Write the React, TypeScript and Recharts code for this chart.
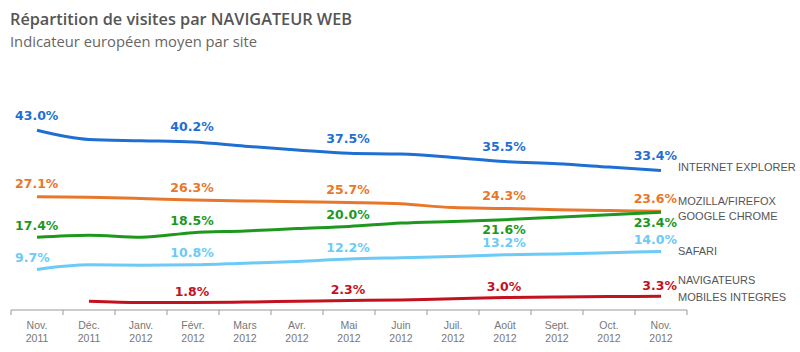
import React from 'react';
import { LineChart, Line, XAxis, YAxis, LabelList } from 'recharts';

const months = ['Nov.', 'Déc.', 'Janv.', 'Févr.', 'Mars', 'Avr.', 'Mai', 'Juin', 'Juil.', 'Août', 'Sept.', 'Oct.', 'Nov.'];
const years = ['2011', '2011', '2012', '2012', '2012', '2012', '2012', '2012', '2012', '2012', '2012', '2012', '2012'];

const internetExplorer = [43.0, 40.8, 40.5, 40.2, 39.2, 38.3, 37.5, 37.3, 36.5, 35.5, 35.0, 34.2, 33.4];
const mozillaFirefox = [27.1, 27.0, 26.7, 26.3, 26.1, 25.9, 25.7, 25.4, 24.5, 24.3, 24.0, 23.8, 23.6];
const googleChrome = [17.4, 17.9, 17.4, 18.5, 18.9, 19.5, 20.0, 20.8, 21.2, 21.6, 22.2, 22.8, 23.4];
const safari = [9.7, 10.8, 10.7, 10.8, 11.2, 11.6, 12.2, 12.5, 12.8, 13.2, 13.4, 13.7, 14.0];
const mobiles = [null, 2.1, 1.8, 1.8, 1.9, 2.1, 2.3, 2.4, 2.7, 3.0, 3.1, 3.2, 3.3];

// points that carry a value label
const labelledPoints = [0, 3, 6, 9, 12];

const HALF_STEP = 26;
const LAST = months.length - 1;

const series = [
  { key: 'ie', name: ['INTERNET EXPLORER'], values: internetExplorer, color: '#1f6fd2', above: -15, below: [] as number[], nameDy: [-3] },
  { key: 'ff', name: ['MOZILLA/FIREFOX'], values: mozillaFirefox, color: '#e8772c', above: -13, below: [], nameDy: [-10] },
  { key: 'gc', name: ['GOOGLE CHROME'], values: googleChrome, color: '#1d981d', above: -12, below: [9, 12], nameDy: [4] },
  { key: 'sf', name: ['SAFARI'], values: safari, color: '#6ccaf6', above: -12, below: [], nameDy: [0] },
  { key: 'mb', name: ['NAVIGATEURS', 'MOBILES INTEGRES'], values: mobiles, color: '#c3121f', above: -11, below: [], nameDy: [-16, 1] },
];

const data = months.map((m, i) => {
  const row: Record<string, any> = { period: `${m} ${years[i]}` };
  series.forEach(s => { row[s.key] = s.values[i]; });
  return row;
});

const makeLabel = (s: typeof series[number]) => (props: any) => {
  const { x, y, value, index } = props;
  if (value == null || x == null || y == null) return null;
  const parts: React.ReactNode[] = [];
  if (labelledPoints.includes(index)) {
    const isBelow = s.below.includes(index);
    const anchor = index === 0 ? 'start' : index === LAST ? 'end' : 'middle';
    const tx = index === 0 ? x - 22 : index === LAST ? x + 16 : x - 1;
    const ty = (isBelow ? y + 10 : y + s.above) + 4.5;
    parts.push(
      <text key="v" x={tx} y={ty} textAnchor={anchor} fill={s.color}
        fontFamily="DejaVu Sans" fontWeight="bold" fontSize={12.5}>
        {`${Number(value).toFixed(1)}%`}
      </text>
    );
  }
  if (index === LAST) {
    s.name.forEach((line, i) => {
      parts.push(
        <text key={'n' + i} x={x + 17} y={y + s.nameDy[i] + 4} fill="#555"
          fontFamily="Liberation Sans" fontSize={11}>
          {line}
        </text>
      );
    });
  }
  return <g>{parts}</g>;
};

const AxisTick = (props: any) => {
  const { x, y, payload, index } = props;
  const [m, yr] = String(payload.value).split(' ');
  return (
    <g>
      <line x1={x - HALF_STEP} x2={x - HALF_STEP} y1={y - 5} y2={y} stroke="#999" />
      {index === LAST && <line x1={x + HALF_STEP} x2={x + HALF_STEP} y1={y - 5} y2={y} stroke="#999" />}
      <text x={x} y={y + 14} textAnchor="middle" fill="#777" fontFamily="Liberation Sans" fontSize={10.5}>{m}</text>
      <text x={x} y={y + 27} textAnchor="middle" fill="#777" fontFamily="Liberation Sans" fontSize={10.5}>{yr}</text>
    </g>
  );
};

export default function App() {
  return (
    <div style={{ position: 'relative', width: 800, height: 352, background: '#fff' }}>
      <style>{'body{margin:0}'}</style>
      <svg width={800} height={60} style={{ position: 'absolute', left: 0, top: 0 }}>
        <text x={10} y={25} fill="#555" fontFamily="Open Sans" fontWeight={600} fontSize={17}
          textLength={342} lengthAdjust="spacingAndGlyphs">
          Répartition de visites par NAVIGATEUR WEB
        </text>
        <text x={10} y={47} fill="#666" fontFamily="Open Sans" fontSize={14}
          textLength={247} lengthAdjust="spacingAndGlyphs">
          Indicateur européen moyen par site
        </text>
      </svg>
      <LineChart width={800} height={352} data={data}
        margin={{ top: 101, right: 113, left: 11, bottom: 2 }}>
        <XAxis dataKey="period" interval={0} height={40} tickSize={5} tickMargin={0}
          tickLine={false} axisLine={{ stroke: '#999' }}
          padding={{ left: HALF_STEP, right: HALF_STEP }} tick={<AxisTick />} />
        <YAxis hide domain={[0, 50]} />
        {series.map(s => (
          <Line key={s.key} type="monotone" dataKey={s.key} stroke={s.color} strokeWidth={3}
            dot={false} activeDot={false} isAnimationActive={false} connectNulls={false}>
            <LabelList dataKey={s.key} content={makeLabel(s)} />
          </Line>
        ))}
      </LineChart>
    </div>
  );
}
